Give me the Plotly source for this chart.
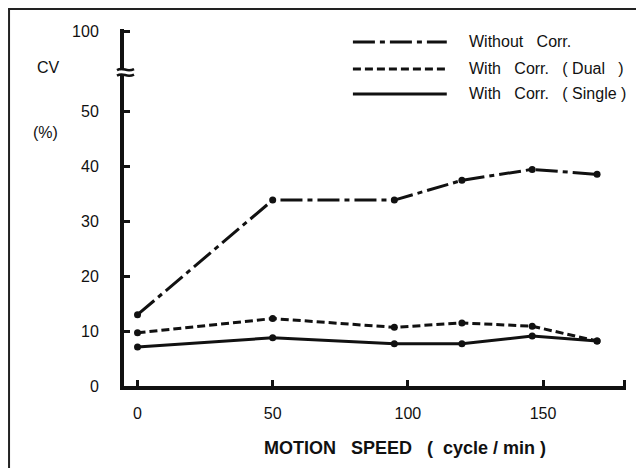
import plotly.graph_objects as go

# motion speed (cycle/min) and CV (%)
speed = [0, 50, 95, 120, 146, 170]
cv_without = [13.0, 33.9, 33.9, 37.5, 39.5, 38.6]
cv_dual = [9.7, 12.3, 10.7, 11.5, 10.9, 8.2]
cv_single = [7.1, 8.8, 7.7, 7.7, 9.1, 8.2]

x_tickvals = [0, 50, 100, 150, 180]
x_ticktext = ["0", "50", "100", "150", ""]
# the axis is broken above 50: the "100" tick sits just above the break
y_tickvals = [0, 10, 20, 30, 40, 50, 64.6]
y_ticktext = ["0", "10", "20", "30", "40", "50", "100"]

NB = "\u00a0"
series_names = [
    f"Without{NB * 3}Corr.",
    f"With{NB * 3}Corr.{NB * 3}({NB}Dual{NB * 3})",
    f"With{NB * 3}Corr.{NB * 3}({NB}Single{NB})",
]

INK = "#111111"
FONT = "Liberation Sans, Arial, sans-serif"
DASHES = ["22px,5px,5px,5px", "8px,4px", "solid"]
LEGEND_Y = [0.9636, 0.888, 0.818]

fig = go.Figure()
for ys, dash in zip([cv_without, cv_dual, cv_single], DASHES):
    fig.add_trace(go.Scatter(
        x=speed, y=ys, mode="lines+markers",
        line=dict(color=INK, width=3, dash=dash),
        marker=dict(color=INK, size=7),
        cliponaxis=False, showlegend=False,
    ))

shapes = []
# hand-drawn style legend
for yl, dash in zip(LEGEND_Y, DASHES):
    shapes.append(dict(type="line", xref="paper", yref="paper",
                       x0=0.456, x1=0.643, y0=yl, y1=yl,
                       line=dict(color=INK, width=3, dash=dash)))

# axis break marks
shapes.append(dict(type="rect", xref="paper", yref="y",
                   x0=-0.02, x1=0.02, y0=56.8, y1=57.6,
                   fillcolor="white", line=dict(width=0)))
for yb in [56.7, 57.7]:
    shapes.append(dict(
        type="path", xref="paper", yref="y",
        path=f"M -0.014,{yb - 0.1} C 0.0,{yb + 0.6} 0.004,{yb - 0.6} 0.02,{yb + 0.1}",
        line=dict(color=INK, width=2.5)))

# page frame (top and left edges only, as scanned)
shapes.append(dict(type="line", xref="paper", yref="paper",
                   x0=-0.231, x1=1.04, y0=1.056, y1=1.056,
                   line=dict(color="#222", width=2)))
shapes.append(dict(type="line", xref="paper", yref="paper",
                   x0=-0.229, x1=-0.229, y0=1.056, y1=-0.24,
                   line=dict(color="#222", width=2)))

annotations = [
    dict(text="CV", x=-0.177, y=0.891),
    dict(text="(%)", x=-0.185, y=0.709),
    dict(text=f"MOTION{NB * 3}SPEED{NB * 3}({NB * 2}cycle{NB}/{NB}min{NB})",
         x=0.56, y=-0.174, font=dict(size=18, color=INK, family=FONT, weight="bold")),
]
for name, yl in zip(series_names, LEGEND_Y):
    annotations.append(dict(text=name, x=0.683, y=yl, xanchor="left",
                            font=dict(size=16, color=INK, family=FONT)))
for a in annotations:
    a.setdefault("xref", "paper")
    a.setdefault("yref", "paper")
    a.setdefault("yanchor", "middle")
    a.setdefault("showarrow", False)
    a.setdefault("font", dict(size=16, color=INK, family=FONT))

fig.update_layout(
    width=636, height=460,
    margin=dict(l=116, r=18, t=21, b=82),
    paper_bgcolor="white", plot_bgcolor="white",
    font=dict(family=FONT, size=15, color=INK),
    shapes=shapes, annotations=annotations,
    xaxis=dict(range=[-5, 180.7], tickvals=x_tickvals, ticktext=x_ticktext,
               showgrid=False, zeroline=False, showline=True,
               linecolor=INK, linewidth=4, ticks="inside", ticklen=6,
               tickwidth=3, tickcolor=INK, ticklabelstandoff=10,
               tickfont=dict(size=16)),
    yaxis=dict(range=[0, 65.1], tickvals=y_tickvals, ticktext=y_ticktext,
               showgrid=False, zeroline=False, showline=True,
               linecolor=INK, linewidth=4, ticks="inside", ticklen=6,
               tickwidth=3, tickcolor=INK, ticklabelstandoff=18,
               tickfont=dict(size=16)),
)

fig.write_html("out.html")
